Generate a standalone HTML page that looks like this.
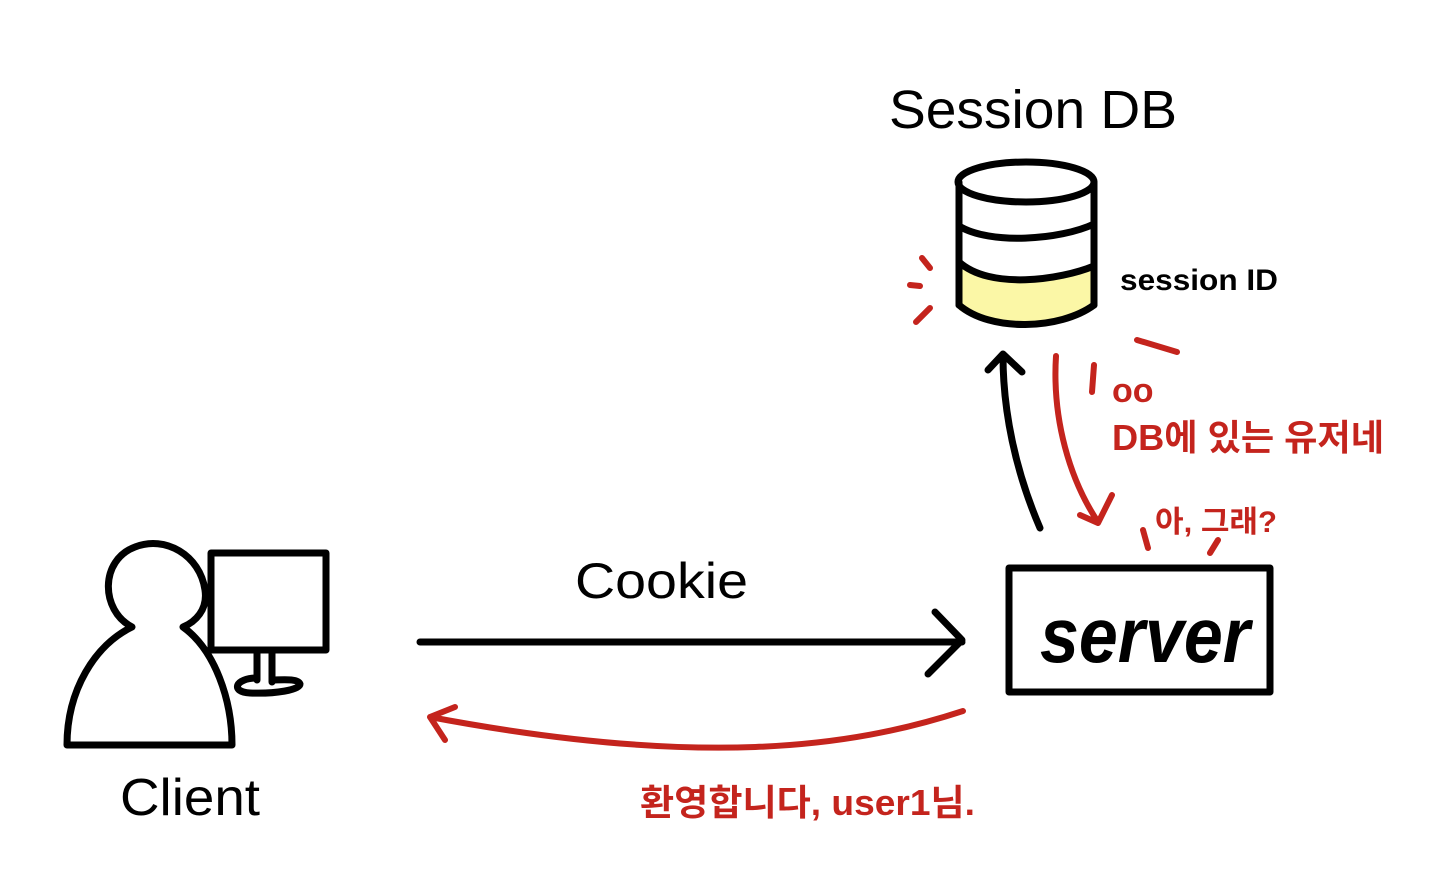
<!DOCTYPE html>
<html><head><meta charset="utf-8"><style>
html,body{margin:0;padding:0;background:#fff;}
svg{display:block}
text{font-family:"Liberation Sans","Noto Sans CJK KR",sans-serif}
</style></head><body>
<svg width="1440" height="886" viewBox="0 0 1440 886" xmlns="http://www.w3.org/2000/svg">
<g fill="none" stroke="#000" stroke-width="7" stroke-linecap="round" stroke-linejoin="round">
<path d="M132,627 C100,610 100,560 135,547 C165,535 200,555 205,590 C208,610 195,622 183,627 C215,650 232,700 232,745 L67,745 C67,690 95,645 132,627 Z" fill="#fff"/>
<rect x="211" y="553" width="115" height="97" fill="#fff"/>
<path d="M257,650 L257,680 M272,650 L272,682"/>
<path d="M257,678 C235,678 230,692 250,693 C275,694 300,690 300,684 C298,678 280,680 272,680"/>
<path d="M420,642 L962,642 M935,612 L962,640 L928,674"/>
<rect x="1009" y="568" width="261" height="124" fill="#fff"/>
<path d="M959,310 L959,262 C990,290 1060,280 1094,264 L1094,300 C1060,330 990,330 959,310 Z" fill="#fbf7a6" stroke="none"/>
<ellipse cx="1026" cy="182" rx="68" ry="20"/>
<path d="M959,182 L959,305 M1094,182 L1094,305"/>
<path d="M959,226 C990,245 1060,240 1094,224"/>
<path d="M959,262 C990,290 1060,280 1094,266"/>
<path d="M959,305 C990,332 1060,330 1094,305"/>
<path d="M1040,528 C1015,470 1003,410 1003,356 M988,370 L1003,354 L1022,372"/>
</g>
<g fill="none" stroke="#c4241d" stroke-width="6" stroke-linecap="round" stroke-linejoin="round">
<path d="M963,711 C850,748 700,768 430,717 M455,707 L430,717 L445,740"/>
<path d="M1056,356 C1052,420 1070,480 1098,522 M1080,515 L1098,523 L1112,495"/>
<path d="M922,258 L930,268 M910,285 L920,286 M916,322 L930,308"/>
<path d="M1137,340 L1177,352 M1094,365 L1092,392 M1143,530 L1148,548 M1210,553 L1218,540"/>
</g>
<text x="889" y="128" font-size="54" fill="#000" textLength="288" lengthAdjust="spacingAndGlyphs">Session DB</text>
<text x="575" y="598" font-size="50" fill="#000" textLength="173" lengthAdjust="spacingAndGlyphs">Cookie</text>
<text x="120" y="815" font-size="52" fill="#000" textLength="140" lengthAdjust="spacingAndGlyphs">Client</text>
<text x="1040" y="662" font-size="78" font-style="italic" fill="#000" font-weight="bold" textLength="210" lengthAdjust="spacingAndGlyphs">server</text>
<text x="1120" y="290" font-size="30" font-weight="bold" fill="#000" textLength="158" lengthAdjust="spacingAndGlyphs">session ID</text>
<g fill="#c4241d">
<text x="1112" y="402" font-size="34" font-weight="bold">oo</text>
<text x="1112" y="450" font-size="36" font-weight="bold" textLength="272" lengthAdjust="spacingAndGlyphs">DB에 있는 유저네</text>
<text x="1155" y="532" font-size="30" font-weight="bold" textLength="122" lengthAdjust="spacingAndGlyphs">아, 그래?</text>
<text x="640" y="815" font-size="36" font-weight="bold" textLength="335" lengthAdjust="spacingAndGlyphs">환영합니다, user1님.</text>
</g>
</svg>
</body></html>
